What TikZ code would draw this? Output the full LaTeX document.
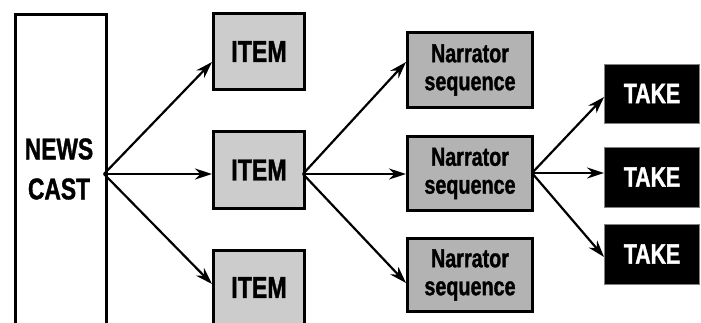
\documentclass[tikz,border=0pt]{standalone}
\usepackage{fontspec}
\newfontfamily\condsans[FakeStretch=0.76, BoldFeatures={FakeBold=1.2}]{Liberation Sans}
\usetikzlibrary{arrows.meta}
\definecolor{itemgray}{HTML}{CCCCCC}
\definecolor{narrgray}{HTML}{B3B3B3}
\begin{document}
\begin{tikzpicture}[x=1pt,y=-1pt,
  box/.style={draw, line width=3pt, inner sep=0pt, align=center},
  newsbox/.style={box, fill=white, minimum width=91pt, minimum height=340pt},
  newstext/.style={font=\condsans\bfseries\fontsize{30}{40}\selectfont, align=center},
  itembox/.style={box, fill=itemgray, minimum width=91pt,
    font=\condsans\bfseries\fontsize{30.5}{36}\selectfont},
  narrbox/.style={box, fill=narrgray, minimum width=125pt,
    font=\condsans\bfseries\fontsize{26}{28}\selectfont},
  takebox/.style={draw=gray, line width=0.9pt, fill=black, text=white,
    inner sep=0pt, minimum width=95pt, minimum height=59pt,
    font=\condsans\bfseries\fontsize{28}{32}\selectfont},
  arr/.style={line width=2.2pt, -{Stealth[length=17pt,width=11pt]}}
]
\useasboundingbox (0,0) rectangle (701,323);
\clip (0,0) rectangle (701,323);

% newscast column, open at the bottom
\node[newsbox, anchor=north west] (news) at (13.5,13.5) {};
\node[newstext] (newslabel) at (59,169) {NEWS\\CAST};

% items
\node[itembox, minimum height=76pt] (item1) at (259,51.5) {ITEM};
\node[itembox, minimum height=77pt] (item2) at (259,170) {ITEM};
\node[itembox, minimum height=80pt] (item3) at (259,290) {\raisebox{5pt}{ITEM}};

% narrator sequences
\node[narrbox, minimum height=75pt] (narr1) at (470,70) {Narrator\\sequence};
\node[narrbox, minimum height=74pt] (narr2) at (470,173.5) {Narrator\\sequence};
\node[narrbox, minimum height=73pt] (narr3) at (470,275) {Narrator\\sequence};

% takes
\node[takebox] (take1) at (652,93.5) {TAKE};
\node[takebox, minimum height=60pt] (take2) at (652,177) {TAKE};
\node[takebox, minimum height=60pt] (take3) at (652,254) {TAKE};

% fan-out points
\coordinate (fan1) at (104,174);
\coordinate (fan2) at (303,174);
\coordinate (fan3) at (532,173);

% connectors
\draw[arr] (fan1) -- ([yshift=-10.5pt]item1.west);
\draw[arr] (fan1) -- (item2.west |- fan1);
\draw[arr] (fan1) -- ([yshift=6pt]item3.west);

\draw[arr] (fan2) -- ([yshift=8pt]narr1.west);
\draw[arr] (fan2) -- (narr2.west |- fan2);
\draw[arr] (fan2) -- ([yshift=-8pt]narr3.west);

\draw[arr] (fan3) -- ([yshift=-3.5pt]take1.west);
\draw[arr] (fan3) -- (take2.west |- fan3);
\draw[arr] (fan3) -- ([yshift=-3pt]take3.west);
\end{tikzpicture}
\end{document}
